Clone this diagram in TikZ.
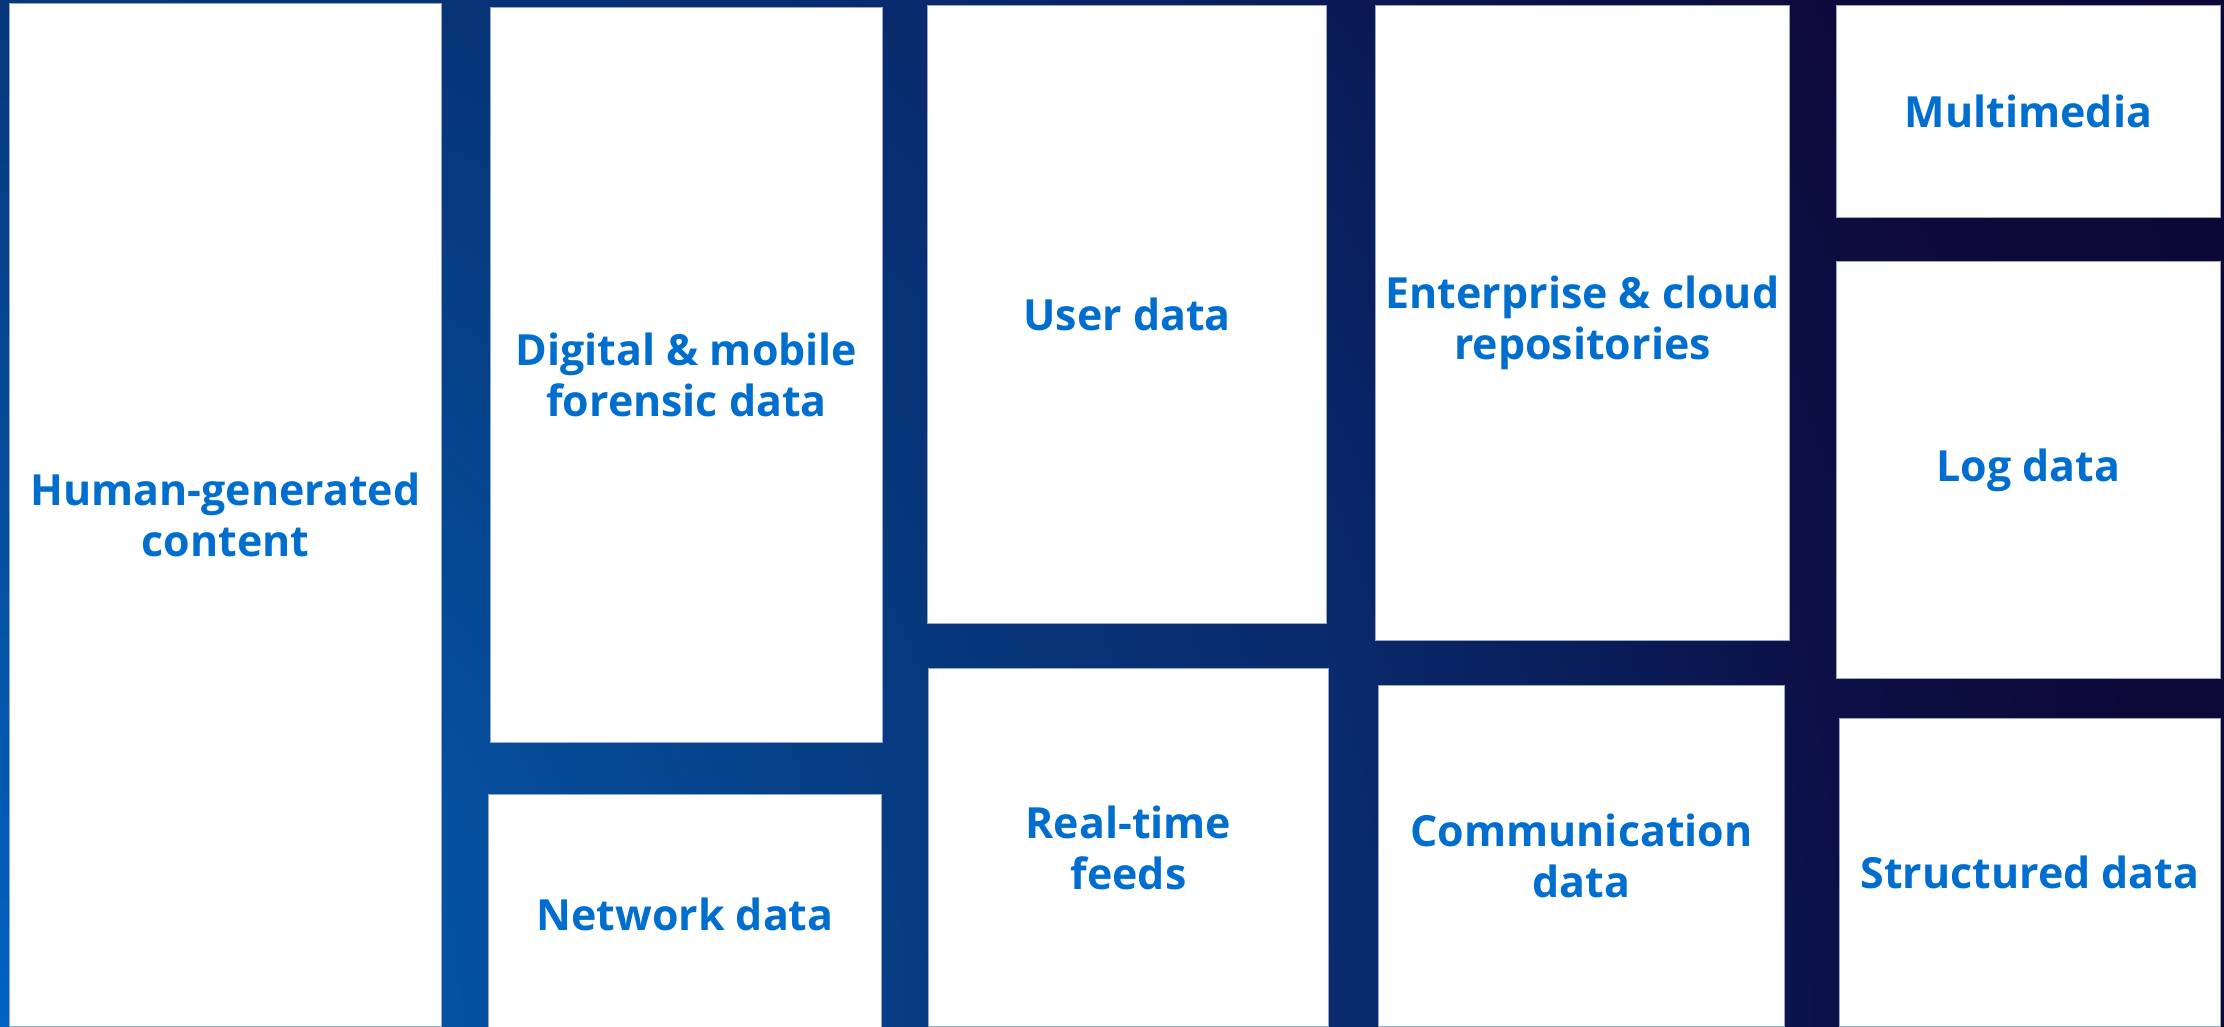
\documentclass[tikz,border=0pt]{standalone}
\usepackage{fontspec}
\setmainfont{Open Sans}
\definecolor{glowa}{HTML}{0062C4}
\definecolor{glowb}{HTML}{0552A2}
\definecolor{glowc}{HTML}{06387C}
\definecolor{glowd}{HTML}{09296B}
\definecolor{glowe}{HTML}{0A1C58}
\definecolor{glowf}{HTML}{0C1046}
\definecolor{glowg}{HTML}{0C0A3A}
\definecolor{glowh}{HTML}{0D0535}
\definecolor{tiletext}{HTML}{006ECF}
\definecolor{tileedge}{HTML}{9AA8C8}
\pgfdeclareradialshading{bgglow}{\pgfpoint{0bp}{0bp}}{color(0bp)=(glowa); color(4.5bp)=(glowb); color(10bp)=(glowc); color(14bp)=(glowd); color(16.5bp)=(glowe); color(18.5bp)=(glowf); color(21bp)=(glowg); color(25bp)=(glowh); color(50bp)=(glowh)}
\tikzset{
tile/.style={rectangle,fill=white,draw=tileedge,line width=0.25pt,inner sep=0pt,
  align=center,text=tiletext,font=\fontsize{12.2}{14.5}\selectfont\bfseries}
}
\begin{document}
\begin{tikzpicture}[x=0.01cm,y=-0.01cm]
\useasboundingbox (0,0) rectangle (2224,1026);
\begin{scope}
\clip (0,0) rectangle (2224,1026);
\shade[shading=bgglow] (0,1026) ++(-2500,-2500) rectangle ++(5000,5000);
\end{scope}
\node[tile,minimum width=4.31cm,minimum height=10.22cm] (human) at (225.5,515) {Human-generated\\content};
\node[tile,minimum width=3.91cm,minimum height=7.34cm] (forensic) at (686.5,375) {Digital \& mobile\\forensic data};
\node[tile,minimum width=3.92cm,minimum height=2.40cm] (network) at (685,914) {Network data};
\node[tile,minimum width=3.98cm,minimum height=6.17cm] (user) at (1127,314.5) {User data};
\node[tile,minimum width=3.99cm,minimum height=3.57cm] (realtime) at (1128.5,847.5) {Real-time\\feeds};
\node[tile,minimum width=4.13cm,minimum height=6.34cm] (enterprise) at (1582.5,323) {Enterprise \& cloud\\repositories};
\node[tile,minimum width=4.05cm,minimum height=3.40cm] (communication) at (1581.5,856) {Communication\\data};
\node[tile,minimum width=3.83cm,minimum height=2.12cm] (multimedia) at (2028.5,111) {Multimedia};
\node[tile,minimum width=3.83cm,minimum height=4.16cm] (log) at (2028.5,470) {Log data};
\node[tile,minimum width=3.80cm,minimum height=3.07cm] (structured) at (2030,872.5) {Structured data};
\end{tikzpicture}
\end{document}
